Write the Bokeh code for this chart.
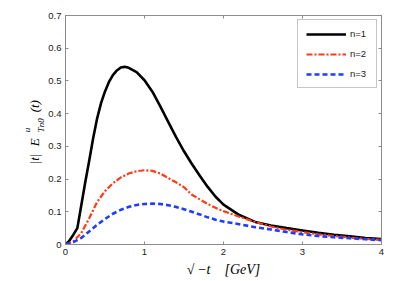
import math
from bokeh.plotting import figure
from bokeh.models import Range1d, FixedTicker, LinearAxis, Label, Legend, LegendItem
from bokeh.embed import file_html
from bokeh.resources import INLINE

# ---- data ----
x_n1 = [0, 0.05, 0.1, 0.15, 0.2, 0.25, 0.3, 0.35, 0.4, 0.45, 0.5, 0.55, 0.6, 0.65, 0.7,
        0.75, 0.8, 0.9, 1.0, 1.1, 1.2, 1.3, 1.4, 1.5, 1.6, 1.7, 1.8, 1.9, 2.0,
        2.2, 2.4, 2.6, 2.8, 3.0, 3.2, 3.4, 3.6, 3.8, 4.0]
y_n1 = [0, 0.012, 0.03, 0.05, 0.12, 0.19, 0.256, 0.325, 0.385, 0.432, 0.468, 0.497, 0.518,
        0.532, 0.541, 0.543, 0.54, 0.527, 0.502, 0.467, 0.422, 0.375, 0.328, 0.285, 0.246,
        0.21, 0.176, 0.146, 0.122, 0.09, 0.069, 0.058, 0.05, 0.043, 0.036, 0.03, 0.025,
        0.02, 0.017]

x_n23 = [0, 0.1, 0.2, 0.3, 0.4, 0.5, 0.6, 0.7, 0.8, 0.9, 1.0, 1.1, 1.2, 1.3, 1.4, 1.5,
         1.6, 1.7, 1.8, 1.9, 2.0, 2.2, 2.4, 2.6, 2.8, 3.0, 3.2, 3.4, 3.6, 3.8, 4.0]
y_n2 = [0, 0.01, 0.035, 0.08, 0.13, 0.163, 0.187, 0.205, 0.217, 0.224, 0.227, 0.225, 0.217,
        0.203, 0.19, 0.175, 0.152, 0.138, 0.124, 0.112, 0.102, 0.085, 0.069, 0.055, 0.045,
        0.038, 0.031, 0.026, 0.021, 0.017, 0.014]
y_n3 = [0, 0.007, 0.02, 0.04, 0.06, 0.078, 0.094, 0.106, 0.115, 0.121, 0.124, 0.125, 0.124,
        0.12, 0.115, 0.108, 0.1, 0.092, 0.083, 0.076, 0.07, 0.062, 0.053, 0.046, 0.038,
        0.031, 0.026, 0.022, 0.019, 0.016, 0.013]

x_ticks = [0, 1, 2, 3, 4]
y_ticks = [0, 0.1, 0.2, 0.3, 0.4, 0.5, 0.6, 0.7]
legend_labels = ["n=1", "n=2", "n=3"]

GREY = "#8c8c8c"
TICKFONT = "Liberation Sans"

p = figure(width=409, height=281, output_backend="svg", toolbar_location=None,
           x_range=Range1d(0, 4), y_range=Range1d(0, 0.7),
           min_border_left=63, min_border_right=28, min_border_top=15, min_border_bottom=37)
p.background_fill_color = "white"
p.border_fill_color = "white"
p.outline_line_color = GREY
p.outline_line_width = 1
p.xgrid.visible = False
p.ygrid.visible = False

r1 = p.line(x_n1, y_n1, line_color="black", line_width=2.6)
r2 = p.line(x_n23, y_n2, line_color="#ff3a14", line_width=2.2, line_dash="6 2 2 2")
r3 = p.line(x_n23, y_n3, line_color="#1f3dff", line_width=2.6, line_dash="5 3")

def style_axis(ax, labels=True):
    ax.axis_line_color = GREY
    ax.major_tick_line_color = GREY
    ax.major_tick_in = 3
    ax.major_tick_out = 0
    ax.minor_tick_line_color = None
    if labels:
        ax.major_label_text_font = TICKFONT
        ax.major_label_text_font_size = "9.5px"
        ax.major_label_text_color = "#1a1a1a"
        ax.major_label_standoff = 4
    else:
        ax.major_label_text_font_size = "0px"
        ax.major_label_text_color = None
        ax.major_label_standoff = 0

xa = p.below[0]
ya = p.left[0]
xa.ticker = FixedTicker(ticks=x_ticks)
ya.ticker = FixedTicker(ticks=y_ticks)
style_axis(xa)
style_axis(ya)
ya.major_label_overrides = {0: "0"}

# x axis label
xa.axis_label = "√\u2009−t\u2002\u2002[GeV]"
xa.axis_label_text_font = "Liberation Serif"
xa.axis_label_text_font_style = "italic"
xa.axis_label_text_font_size = "14px"
xa.axis_label_text_color = "black"
xa.axis_label_standoff = 4

top_ax = LinearAxis(ticker=FixedTicker(ticks=x_ticks))
right_ax = LinearAxis(ticker=FixedTicker(ticks=y_ticks))
style_axis(top_ax, labels=False)
style_axis(right_ax, labels=False)
p.add_layout(top_ax, "above")
p.add_layout(right_ax, "right")

# y axis label built from rotated pieces; placed in side panels so they are not clipped
def ylab(text, xd, yd, size, side):
    p.add_layout(Label(x=xd, y=yd, text=text, angle=math.pi / 2,
                       text_align="left", text_baseline="alphabetic",
                       text_font="Liberation Serif", text_font_style="italic",
                       text_font_size=size, text_color="black"), side)

ylab("|t|", -0.39, 0.245, "13px", "left")
ylab("E", -0.39, 0.300, "13px", "left")
ylab("(t)", -0.39, 0.404, "13px", "left")
ylab("u", -0.49, 0.343, "9px", "right")
ylab("Tn0", -0.315, 0.343, "9px", "right")

legend = Legend(items=[LegendItem(label=legend_labels[0], renderers=[r1]),
                       LegendItem(label=legend_labels[1], renderers=[r2]),
                       LegendItem(label=legend_labels[2], renderers=[r3])],
                location="top_right")
legend.margin = 4
legend.padding = 8
legend.spacing = 9
legend.glyph_width = 40
legend.glyph_height = 10
legend.label_height = 10
legend.label_width = 18
legend.label_standoff = 4
legend.label_text_font = TICKFONT
legend.label_text_font_size = "9.5px"
legend.label_text_color = "#1a1a1a"
legend.border_line_color = GREY
legend.border_line_width = 1
legend.background_fill_color = "white"
legend.background_fill_alpha = 1
p.add_layout(legend)

open("out.html", "w").write(file_html(p, INLINE))
